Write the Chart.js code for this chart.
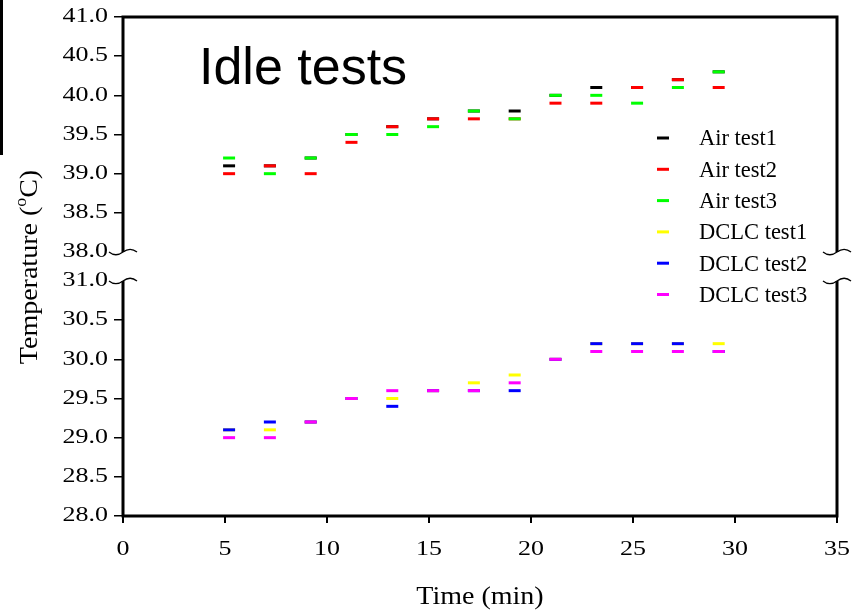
<!DOCTYPE html>
<html><head><meta charset="utf-8">
<style>html,body{margin:0;padding:0;background:#fff;}</style>
<script src="https://cdn.jsdelivr.net/npm/chart.js"></script>
</head><body>
<canvas id="c" width="865" height="613"></canvas>
<script>
const times = [5.2, 7.2, 9.2, 11.2, 13.2, 15.2, 17.2, 19.2, 21.2, 23.2, 25.2, 27.2, 29.2];
const airTest1  = [39.1, 39.1, 39.2, 39.5, 39.6, 39.7, 39.8, 39.8, 40.0, 40.1, 40.1, 40.2, 40.3];
const airTest2  = [39.0, 39.1, 39.0, 39.4, 39.6, 39.7, 39.7, 39.7, 39.9, 39.9, 40.1, 40.2, 40.1];
const airTest3  = [39.2, 39.0, 39.2, 39.5, 39.5, 39.6, 39.8, 39.7, 40.0, 40.0, 39.9, 40.1, 40.3];
const dclcTest1 = [29.1, 29.1, 29.2, 29.5, 29.5, 29.6, 29.7, 29.8, 30.0, 30.2, 30.2, 30.2, 30.2];
const dclcTest2 = [29.1, 29.2, 29.2, 29.5, 29.4, 29.6, 29.6, 29.6, 30.0, 30.2, 30.2, 30.2, 30.1];
const dclcTest3 = [29.0, 29.0, 29.2, 29.5, 29.6, 29.6, 29.6, 29.7, 30.0, 30.1, 30.1, 30.1, 30.1];
const seriesNames = ['Air test1', 'Air test2', 'Air test3', 'DCLC test1', 'DCLC test2', 'DCLC test3'];
const seriesColors = ['#000000', '#ff0000', '#00ff00', '#ffff00', '#0000ff', '#ff00ff'];
const lowTickLabels  = ['28.0', '28.5', '29.0', '29.5', '30.0', '30.5', '31.0'];
const highTickLabels = ['38.0', '38.5', '39.0', '39.5', '40.0', '40.5', '41.0'];
const xTickValues = [0, 5, 10, 15, 20, 25, 30, 35];
const titleText = 'Idle tests';
const xTitle = 'Time (min)';

// broken axis: lower band 28-31, upper band 38-41, with a small gap between them
const GAP = 29 / 78.4;
function yv(v) { return v < 35 ? v - 28 : v - 38 + 3 + GAP; }
const allYTickLabels = lowTickLabels.concat(highTickLabels);

const allSeries = [airTest1, airTest2, airTest3, dclcTest1, dclcTest2, dclcTest3];
const datasets = allSeries.map((arr, i) => ({
  label: seriesNames[i],
  data: arr.map((v, j) => ({ x: times[j], y: yv(v) })),
  order: allSeries.length - i,
  showLine: false,
  pointStyle: 'line',
  pointRadius: 6,
  pointHoverRadius: 6,
  pointBorderWidth: 3,
  borderColor: seriesColors[i],
  backgroundColor: seriesColors[i]
}));

const SERIF = '"Liberation Serif", "Times New Roman", serif';

function stretchText(ctx, text, x, y, sx, align, font) {
  ctx.save();
  ctx.font = font;
  ctx.translate(x, y);
  ctx.scale(sx, 1);
  ctx.textAlign = align;
  ctx.textBaseline = 'middle';
  ctx.fillText(text, 0, 0);
  ctx.restore();
}

function squiggle(ctx, x, y) {
  ctx.beginPath();
  ctx.moveTo(x - 14, y);
  ctx.bezierCurveTo(x - 9, y + 4, x - 4, y + 3, x, y);
  ctx.bezierCurveTo(x + 4, y - 3, x + 9, y - 4, x + 14, y);
  ctx.stroke();
}

const decor = {
  id: 'decor',
  afterDraw(chart) {
    const ctx = chart.ctx;
    const a = chart.chartArea;
    const ys = chart.scales.y, xs = chart.scales.x;
    const L = a.left, R = a.right, T = a.top, B = a.bottom;
    const yb1 = ys.getPixelForValue(yv(38));
    const yb2 = ys.getPixelForValue(yv(31));
    ctx.save();
    ctx.strokeStyle = '#000';
    ctx.fillStyle = '#000';
    ctx.lineWidth = 3;
    ctx.lineCap = 'butt';
    ctx.beginPath();
    ctx.moveTo(L, T - 1.5); ctx.lineTo(L, yb1);
    ctx.moveTo(L, yb2); ctx.lineTo(L, B + 1.5);
    ctx.moveTo(R, T - 1.5); ctx.lineTo(R, yb1);
    ctx.moveTo(R, yb2); ctx.lineTo(R, B + 1.5);
    ctx.moveTo(L, T); ctx.lineTo(R, T);
    ctx.moveTo(L, B); ctx.lineTo(R, B);
    ctx.stroke();
    ctx.lineWidth = 1.3;
    squiggle(ctx, L, yb1); squiggle(ctx, L, yb2);
    squiggle(ctx, R, yb1); squiggle(ctx, R, yb2);

    // tick labels
    ctx.fillStyle = '#000';
    ys.ticks.forEach((t, i) => {
      stretchText(ctx, allYTickLabels[i], L - 15, ys.getPixelForValue(t.value), 1.3, 'right', '20px ' + SERIF);
    });
    xs.ticks.forEach((t) => {
      stretchText(ctx, String(t.value), xs.getPixelForValue(t.value), 550, 1.3, 'center', '20px ' + SERIF);
    });

    // axis titles
    stretchText(ctx, xTitle, (L + R) / 2, 597, 1.12, 'center', '25px ' + SERIF);
    ctx.save();
    ctx.translate(30, 267);
    ctx.rotate(-Math.PI / 2);
    ctx.scale(1.12, 1);
    ctx.textBaseline = 'middle';
    const f1 = '25px ' + SERIF, f2 = '16px ' + SERIF;
    const p1 = 'Temperature (', p2 = 'o', p3 = 'C)';
    ctx.font = f1; const w1 = ctx.measureText(p1).width, w3 = ctx.measureText(p3).width;
    ctx.font = f2; const w2 = ctx.measureText(p2).width;
    let x0 = -(w1 + w2 + w3) / 2;
    ctx.textAlign = 'left';
    ctx.font = f1; ctx.fillText(p1, x0, 0);
    ctx.font = f2; ctx.fillText(p2, x0 + w1, -8);
    ctx.font = f1; ctx.fillText(p3, x0 + w1 + w2, 0);
    ctx.restore();

    // title
    ctx.font = '52px "Liberation Sans", Arial, sans-serif';
    ctx.textAlign = 'left';
    ctx.textBaseline = 'alphabetic';
    ctx.fillText(titleText, 199, 84);

    // legend
    chart.data.datasets.forEach((ds, i) => {
      const y = 138 + i * 31.3;
      ctx.strokeStyle = ds.borderColor;
      ctx.lineWidth = 3;
      ctx.beginPath();
      ctx.moveTo(657, y); ctx.lineTo(669, y);
      ctx.stroke();
      ctx.fillStyle = '#000';
      ctx.font = '22.5px ' + SERIF;
      ctx.textAlign = 'left';
      ctx.textBaseline = 'middle';
      ctx.fillText(ds.label, 699, y + 1.5);
    });

    // black bar at left edge
    ctx.fillStyle = '#000';
    ctx.fillRect(0, 0, 3, 155);
    ctx.restore();
  }
};

new Chart(document.getElementById('c'), {
  type: 'scatter',
  data: { datasets },
  options: {
    responsive: false,
    animation: false,
    layout: { padding: { left: 0, top: 17, right: 28, bottom: 0 } },
    plugins: { legend: { display: false }, tooltip: { enabled: false } },
    scales: {
      x: {
        type: 'linear', min: 0, max: 35,
        afterBuildTicks: s => { s.ticks = xTickValues.map(v => ({ value: v })); },
        afterFit: s => { s.height = 97; },
        ticks: { display: false },
        border: { display: false },
        grid: { display: true, drawOnChartArea: false, drawTicks: true, tickLength: 7, color: '#000', lineWidth: 2 }
      },
      y: {
        type: 'linear', min: 0, max: 6 + GAP,
        afterBuildTicks: s => { s.ticks = allYTickLabels.map(t => ({ value: yv(parseFloat(t)) })); },
        afterFit: s => { s.width = 123; },
        ticks: { display: false },
        border: { display: false },
        grid: {
          display: true, drawOnChartArea: false, drawTicks: true, tickLength: 9, lineWidth: 1.5,
          color: c => (c.tick && (c.tick.value === yv(38) || c.tick.value === yv(31))) ? 'rgba(0,0,0,0)' : '#000'
        }
      }
    }
  },
  plugins: [decor]
});
</script>
</body></html>
